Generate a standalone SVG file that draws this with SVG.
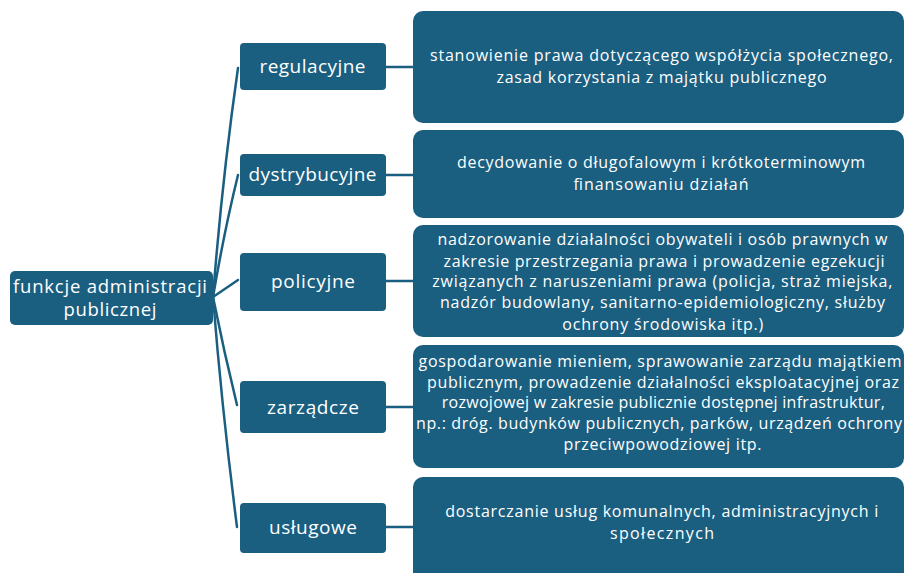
<svg xmlns="http://www.w3.org/2000/svg" width="905" height="573" viewBox="0 0 905 573">
<style>
.box{fill:#1a5e80;}
.t{fill:#ffffff;font-family:"Open Sans","Noto Sans","Liberation Sans",sans-serif;text-anchor:middle;}
.root{font-size:18.5px;}
.mid{font-size:19px;}
.desc{font-size:16px;}
.c{fill:none;stroke:#1a5e80;stroke-width:2.5;stroke-linecap:round;}
</style>
<rect width="905" height="573" fill="#ffffff"/>
<g id="connectors">
<path class="c" d="M213,297 Q222,180 238,68"/>
<path class="c" d="M213,297 Q224,232 238,175"/>
<path class="c" d="M213,297 L238,280"/>
<path class="c" d="M213,297 Q224,352 237,405"/>
<path class="c" d="M213,297 Q222,410 237,527"/>
<path class="c" d="M386,67 L413,67"/>
<path class="c" d="M386,175 L413,175"/>
<path class="c" d="M386,281 L413,281"/>
<path class="c" d="M386,407 L413,407"/>
<path class="c" d="M386,527 L413,527"/>
</g>
<g id="root">
<rect class="box" x="10" y="271" width="203" height="54" rx="5"/>
<text class="t root" x="110" y="293" textLength="194">funkcje administracji</text>
<text class="t root" x="110" y="316" textLength="93">publicznej</text>
</g>
<g id="regulacyjne">
<rect class="box" x="240" y="43" width="146" height="47" rx="4"/>
<text class="t mid" x="312.5" y="73" textLength="106">regulacyjne</text>
</g>
<g id="dystrybucyjne">
<rect class="box" x="240" y="154" width="146" height="42" rx="4"/>
<text class="t mid" x="312.5" y="181" textLength="128">dystrybucyjne</text>
</g>
<g id="policyjne">
<rect class="box" x="240" y="253" width="146" height="58" rx="4"/>
<text class="t mid" x="313" y="288" textLength="84">policyjne</text>
</g>
<g id="zarzadcze">
<rect class="box" x="240" y="381" width="146" height="52" rx="4"/>
<text class="t mid" x="313" y="414" textLength="92">zarządcze</text>
</g>
<g id="uslugowe">
<rect class="box" x="240" y="503" width="146" height="50" rx="4"/>
<text class="t mid" x="313" y="534" textLength="88">usługowe</text>
</g>
<g id="desc-regulacyjne">
<rect class="box" x="413" y="11" width="491" height="112" rx="10"/>
<text class="t desc" x="661.5" y="61" textLength="463">stanowienie prawa dotyczącego współżycia społecznego,</text>
<text class="t desc" x="661.5" y="83" textLength="330">zasad korzystania z majątku publicznego</text>
</g>
<g id="desc-dystrybucyjne">
<rect class="box" x="413" y="130" width="491" height="88" rx="10"/>
<text class="t desc" x="661" y="168" textLength="408">decydowanie o długofalowym i krótkoterminowym</text>
<text class="t desc" x="661" y="190" textLength="175">finansowaniu działań</text>
</g>
<g id="desc-policyjne">
<rect class="box" x="413" y="225" width="491" height="112" rx="10"/>
<text class="t desc" x="662.5" y="245" textLength="450">nadzorowanie działalności obywateli i osób prawnych w</text>
<text class="t desc" x="664" y="267" textLength="441">zakresie przestrzegania prawa i prowadzenie egzekucji</text>
<text class="t desc" x="662.3" y="287" textLength="460">związanych z naruszeniami prawa (policja, straż miejska,</text>
<text class="t desc" x="662.5" y="308" textLength="445">nadzór budowlany, sanitarno-epidemiologiczny, służby</text>
<text class="t desc" x="662.8" y="330" textLength="201">ochrony środowiska itp.)</text>
</g>
<g id="desc-zarzadcze">
<rect class="box" x="413" y="345" width="491" height="123" rx="10"/>
<text class="t desc" x="660" y="367" textLength="483">gospodarowanie mieniem, sprawowanie zarządu majątkiem</text>
<text class="t desc" x="663" y="388" textLength="472">publicznym, prowadzenie działalności eksploatacyjnej oraz</text>
<text class="t desc" x="663.3" y="408" textLength="443">rozwojowej w zakresie publicznie dostępnej infrastruktur,</text>
<text class="t desc" x="659" y="429" textLength="486">np.: dróg. budynków publicznych, parków, urządzeń ochrony</text>
<text class="t desc" x="662.5" y="450" textLength="198">przeciwpowodziowej itp.</text>
</g>
<g id="desc-uslugowe">
<rect class="box" x="413" y="477" width="491" height="110" rx="10"/>
<text class="t desc" x="661.7" y="517" textLength="433">dostarczanie usług komunalnych, administracyjnych i</text>
<text class="t desc" x="662" y="539" textLength="104">społecznych</text>
</g>
</svg>
